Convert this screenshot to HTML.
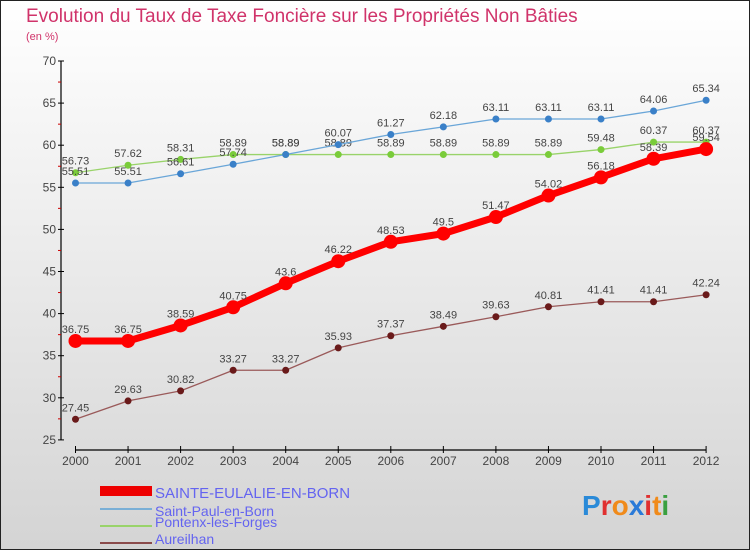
<!DOCTYPE html>
<html><head><meta charset="utf-8"><style>
body{margin:0;width:750px;height:550px;overflow:hidden;font-family:"Liberation Sans",sans-serif}
svg text{font-family:"Liberation Sans",sans-serif}
</style></head><body>
<svg id="c" width="750" height="550">
<defs><linearGradient id="bg" x1="0" y1="0" x2="0" y2="1"><stop offset="0" stop-color="#ffffff"/><stop offset="1" stop-color="#d4d4d4"/></linearGradient></defs>
<rect x="0.5" y="0.5" width="749" height="549" fill="url(#bg)" stroke="#222"/>
<text x="26" y="22" font-size="19" fill="#d0336a">Evolution du Taux de Taxe Foncière sur les Propriétés Non Bâties</text>
<text x="26" y="40" font-size="11" fill="#d0336a">(en %)</text>
<g id="axes"></g><g id="series"></g>
<g>
<rect x="100" y="486" width="52" height="10" fill="#e00"/>
<text x="155" y="498" font-size="15" fill="#6464f0">SAINTE-EULALIE-EN-BORN</text>
<line x1="100" y1="509" x2="152" y2="509" stroke="#7aafd6" stroke-width="2"/>
<text x="155" y="516" font-size="14" fill="#6464f0">Saint-Paul-en-Born</text>
<line x1="100" y1="526" x2="152" y2="526" stroke="#99d36a" stroke-width="2"/>
<text x="155" y="527" font-size="14" fill="#6464f0">Pontenx-les-Forges</text>
<line x1="100" y1="543" x2="152" y2="543" stroke="#8a4a4a" stroke-width="2"/>
<text x="155" y="544" font-size="14" fill="#6464f0">Aureilhan</text>
</g>
<text x="582" y="515" font-size="28" font-weight="bold"><tspan fill="#2a8ad8">P</tspan><tspan fill="#e03030">r</tspan><tspan fill="#f08a1a">o</tspan><tspan fill="#2a7ad8">x</tspan><tspan fill="#e03030">i</tspan><tspan fill="#f08a1a">t</tspan><tspan fill="#3aa040">i</tspan></text>
</svg>
<script>
const years=[2000,2001,2002,2003,2004,2005,2006,2007,2008,2009,2010,2011,2012];
const yTicks=[25,30,35,40,45,50,55,60,65,70];
const sainteEulalie=[36.75,36.75,38.59,40.75,43.6,46.22,48.53,49.5,51.47,54.02,56.18,58.39,59.54];
const saintPaul=[55.51,55.51,56.61,57.74,58.89,60.07,61.27,62.18,63.11,63.11,63.11,64.06,65.34];
const pontenx=[56.73,57.62,58.31,58.89,58.89,58.89,58.89,58.89,58.89,58.89,59.48,60.37,60.37];
const aureilhan=[27.45,29.63,30.82,33.27,33.27,35.93,37.37,38.49,39.63,40.81,41.41,41.41,42.24];
const NS="http://www.w3.org/2000/svg";
const X=i=>75.5+i*52.55, Y=v=>61+(70-v)*8.42;
function mk(tag,attrs,parent,txt){const e=document.createElementNS(NS,tag);for(const k in attrs)e.setAttribute(k,attrs[k]);if(txt!==undefined)e.textContent=txt;parent.appendChild(e);return e;}
const ax=document.getElementById('axes');
let yl=mk('line',{x1:61,y1:61,x2:61,y2:Y(25),stroke:'#000','stroke-width':1.2},ax);


yTicks.forEach(t=>{mk('line',{x1:58,y1:Y(t),x2:64,y2:Y(t),stroke:'#000'},ax);
 if(t<70)mk('line',{x1:58,y1:Y(t+2.5),x2:61,y2:Y(t+2.5),stroke:'#c00'},ax);
 const tx=mk('text',{x:56,y:Y(t)+4,'font-size':12,fill:'#444','text-anchor':'end'},ax,t);
 
 });
let xl=mk('line',{x1:X(0),y1:450,x2:X(12),y2:450,stroke:'#000','stroke-width':1.2},ax);


years.forEach((y,i)=>{mk('line',{x1:X(i),y1:446,x2:X(i),y2:453,stroke:'#000'},ax);
 const tx=mk('text',{x:X(i),y:465,'font-size':12,fill:'#444','text-anchor':'middle'},ax,y);
 
 });
const sg=document.getElementById('series');
function draw(vals,color,w,r,name,mcol){
 const g=mk('g',{},sg);
 
 
 const p=mk('polyline',{points:vals.map((v,i)=>X(i)+','+Y(v)).join(' '),fill:'none',stroke:color,'stroke-width':w,'stroke-linejoin':'round'},g);
 
 
 vals.forEach((v,i)=>{const c=mk('circle',{cx:X(i),cy:Y(v),r:r,fill:mcol},g);
  
  
  const t=mk('text',{x:X(i),y:Y(v)-8,'font-size':11,fill:'#444','text-anchor':'middle'},g,v);
  
  });
}
draw(aureilhan,'#9a5a5a',1.3,3.5,'aureilhan-series','#6a1a1a');
draw(pontenx,'#99d36a',1.3,3.5,'pontenx-series','#7acc3a');
draw(saintPaul,'#6aa6d8',1.3,3.5,'saint-paul-series','#3a80c8');
draw(sainteEulalie,'#ff0000',7,7,'sainte-eulalie-series','#ff0000');
</script>
</body></html>
